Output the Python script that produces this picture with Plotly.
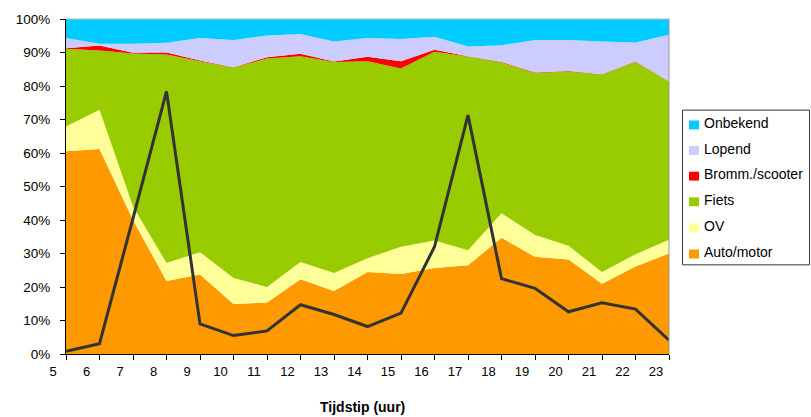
import plotly.graph_objects as go

# Hours (x categories)
hours = list(range(5, 24))
hour_labels = [str(h) for h in hours]

# Share per mode (%) (stacked bottom -> top)
auto_motor = [60.5, 61.2, 40.0, 21.8, 23.7, 14.9, 15.4, 22.3, 18.8, 24.5, 23.9, 25.7, 26.5, 34.7, 29.0, 28.2, 21.0, 26.1, 30.0]
ov = [7.4, 11.7, 4.0, 5.4, 6.7, 7.8, 4.6, 5.2, 5.4, 4.1, 8.1, 8.2, 4.5, 7.3, 6.5, 4.1, 3.5, 3.7, 4.1]
fiets = [23.2, 17.7, 45.7, 62.2, 57.0, 62.8, 68.2, 61.4, 63.0, 58.8, 53.2, 56.3, 57.8, 45.0, 48.4, 52.0, 58.9, 57.4, 47.3]
bromm = [0.2, 1.5, 0.2, 0.6, 0.2, 0.1, 0.4, 0.7, 0.1, 1.3, 2.2, 0.6, 0.1, 0.2, 0.1, 0.2, 0.1, 0.1, 0.0]
lopend = [3.0, 0.5, 2.7, 2.9, 6.7, 8.1, 6.5, 5.9, 6.0, 5.6, 6.6, 3.9, 2.9, 5.0, 9.7, 9.2, 9.8, 5.7, 13.9]
onbekend = [5.7, 7.4, 7.4, 7.1, 5.7, 6.3, 4.9, 4.5, 6.7, 5.7, 6.0, 5.3, 8.2, 7.8, 6.3, 6.3, 6.7, 7.0, 4.7]

# Dark line (no legend entry)
lijn = [0.8, 3.1, 40.5, 78.4, 9.0, 5.5, 6.9, 14.7, 11.8, 8.2, 12.2, 32.0, 71.3, 22.5, 19.6, 12.6, 15.3, 13.4, 4.1]

series = [
    ("Auto/motor", auto_motor, "#FF9900"),
    ("OV", ov, "#FFFF99"),
    ("Fiets", fiets, "#99CC00"),
    ("Bromm./scooter", bromm, "#FF0000"),
    ("Lopend", lopend, "#CCCCFF"),
    ("Onbekend", onbekend, "#00CCFF"),
]

FONT = "Arial, Liberation Sans, sans-serif"

fig = go.Figure()
for name, vals, col in series:
    fig.add_trace(go.Scatter(
        x=hours, y=vals, name=name, mode="lines",
        stackgroup="one", line=dict(width=0, color=col),
        fillcolor=col, showlegend=False, hoverinfo="x+y+name",
    ))

fig.add_trace(go.Scatter(
    x=hours, y=lijn, mode="lines", name="lijn",
    line=dict(color="#333333", width=3), showlegend=False,
))

# Plot area frame (top / right), grey like the original
shapes = [
    dict(type="line", xref="paper", yref="paper", x0=0, x1=1, y0=1, y1=1,
         line=dict(color="#BBBBBB", width=1)),
    dict(type="line", xref="paper", yref="paper", x0=1, x1=1, y0=0, y1=1,
         line=dict(color="#999999", width=1)),
]

# Manual legend (box, colour squares, labels)
plot_l, plot_r, plot_t, plot_b = 66, 669, 14, 354
pw, ph = plot_r - plot_l, plot_b - plot_t


def px(x):
    return (x - plot_l) / pw


def py(y):
    return (plot_b - y) / ph


shapes.append(dict(type="rect", xref="paper", yref="paper",
                   x0=px(682.5), x1=px(809.5), y0=py(106.5), y1=py(263.5),
                   line=dict(color="#333333", width=1), fillcolor="white"))

annotations = []
legend_items = list(reversed(series))
y_centers = [120.5, 146.5, 172.5, 198.5, 225, 251.5]
for (name, _, col), yc in zip(legend_items, y_centers):
    shapes.append(dict(type="rect", xref="paper", yref="paper",
                       x0=px(689), x1=px(699), y0=py(yc + 5.5), y1=py(yc - 3.5),
                       line=dict(width=0), fillcolor=col))
    annotations.append(dict(text=name, xref="paper", yref="paper",
                            x=px(702), y=py(yc - 1), xanchor="left", yanchor="middle",
                            showarrow=False, font=dict(family=FONT, size=14, color="black")))

annotations.append(dict(text="<b>Tijdstip (uur)</b>", xref="paper", yref="paper",
                        x=px(362), y=py(408), xanchor="center", yanchor="middle",
                        showarrow=False, font=dict(family=FONT, size=14, color="black")))

fig.update_layout(
    width=811, height=417,
    margin=dict(l=plot_l, r=811 - plot_r, t=plot_t, b=417 - plot_b),
    paper_bgcolor="white", plot_bgcolor="white",
    font=dict(family=FONT, size=13, color="black"),
    showlegend=False,
    shapes=shapes, annotations=annotations,
    xaxis=dict(
        range=[5, 23], tickmode="array", tickvals=hours, ticktext=hour_labels,
        ticks="outside", ticklen=5, tickcolor="black", showgrid=False, zeroline=False,
        showline=True, linecolor="black", linewidth=1,
        tickfont=dict(family=FONT, size=13, color="black"), ticklabelshift=-13,
    ),
    yaxis=dict(
        range=[0, 100], dtick=10, ticksuffix="%", ticks="outside", ticklen=5,
        tickcolor="black", showgrid=False, zeroline=False,
        showline=True, linecolor="black", linewidth=1,
        tickfont=dict(family=FONT, size=13.5, color="black"), ticklabelstandoff=7,
    ),
)

fig.write_html(
    "out.html",
    config={"displayModeBar": False},
    post_script="document.body.style.margin='0';document.body.style.padding='0';"
                "document.documentElement.style.overflow='hidden';",
)
